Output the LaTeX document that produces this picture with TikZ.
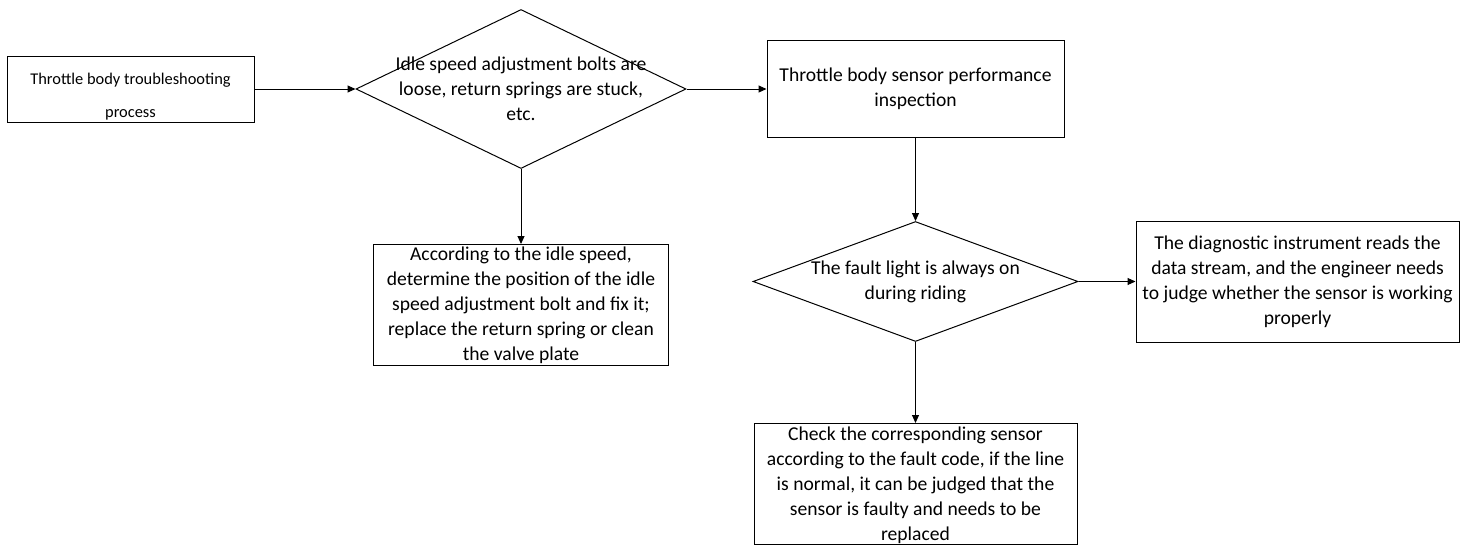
\documentclass[tikz,border=0pt]{standalone}
\usepackage{fontspec}
\setmainfont{Carlito}
\usetikzlibrary{shapes.geometric, arrows.meta, positioning}
\tikzstyle{startstop} = [rectangle, minimum width=247pt, minimum height=66pt, draw=black, line width=1pt]
\tikzstyle{starttext} = [align=center, inner sep=0pt, yshift=-8pt, font=\fontsize{16.4}{33}\selectfont]
\tikzstyle{process} = [rectangle, minimum width=323pt, minimum height=121pt, text centered, align=center, inner sep=0pt, draw=black, line width=1pt, font=\fontsize{19.6}{25}\selectfont]
\tikzstyle{decision} = [diamond, inner sep=0pt, draw=black, line width=1pt]
\tikzstyle{dectext} = [align=center, inner sep=0pt, font=\fontsize{19.6}{25}\selectfont]
\tikzstyle{arrow} = [line width=1pt,->,>={Triangle[length=8pt,width=7pt]}]

\begin{document}
\begin{tikzpicture}[x=1pt, y=-1pt]
\useasboundingbox (0,0) rectangle (1465,544);

% Nodes
\node (start) [startstop, label={[starttext]center:Throttle body troubleshooting\\process}] at (130.5,89) {};

\node (loose) [decision, minimum width=330pt, minimum height=159pt, right=101pt of start,
  label={[dectext]center:Idle speed adjustment bolts are\\loose, return springs are stuck,\\etc.}] {};

\node (sensor) [process, minimum width=297pt, minimum height=97pt, right=80pt of loose]
{Throttle body sensor performance\\inspection};

\node (fixbolt) [process, minimum width=295pt, below=75pt of loose]
{According to the idle speed,\\determine the position of the idle\\speed adjustment bolt and fix it;\\replace the return spring or clean\\the valve plate};

\node (light) [decision, minimum width=325pt, minimum height=120pt, below=83pt of sensor,
  label={[dectext]center:The fault light is always on\\during riding}] {};

\node (reads) [process, right=57pt of light]
{The diagnostic instrument reads the\\data stream, and the engineer needs\\to judge whether the sensor is working\\properly};

\node (check) [process, below=81pt of light, text depth=-3pt]
{Check the corresponding sensor\\according to the fault code, if the line\\is normal, it can be judged that the\\sensor is faulty and needs to be\\replaced};

% Arrows
\draw [arrow] (start) -- (loose);
\draw [arrow] (loose) -- (sensor);
\draw [arrow] (loose) -- (fixbolt);
\draw [arrow] (sensor) -- (light);
\draw [arrow] (light) -- (reads);
\draw [arrow] (light) -- (check);

\end{tikzpicture}
\end{document}
